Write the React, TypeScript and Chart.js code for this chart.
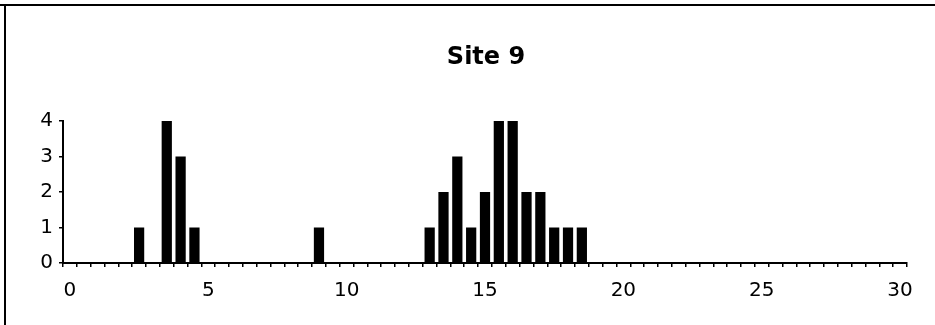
import React, { useEffect, useRef } from "react";
import { Chart, registerables } from "chart.js";

Chart.register(...registerables);

const TITLE = "Site 9";

const CATEGORIES = [
  "0", "0.5", "1", "1.5", "2", "2.5", "3", "3.5", "4", "4.5",
  "5", "5.5", "6", "6.5", "7", "7.5", "8", "8.5", "9", "9.5",
  "10", "10.5", "11", "11.5", "12", "12.5", "13", "13.5", "14", "14.5",
  "15", "15.5", "16", "16.5", "17", "17.5", "18", "18.5", "19", "19.5",
  "20", "20.5", "21", "21.5", "22", "22.5", "23", "23.5", "24", "24.5",
  "25", "25.5", "26", "26.5", "27", "27.5", "28", "28.5", "29", "29.5",
  "30",
];

const COUNTS = [
  0, 0, 0, 0, 0, 1, 0, 4, 3, 1,
  0, 0, 0, 0, 0, 0, 0, 0, 1, 0,
  0, 0, 0, 0, 0, 0, 1, 2, 3, 1,
  2, 4, 4, 2, 2, 1, 1, 1, 0, 0,
  0, 0, 0, 0, 0, 0, 0, 0, 0, 0,
  0, 0, 0, 0, 0, 0, 0, 0, 0, 0,
  0,
];

const X_TICK_LABELS = ["0", "5", "10", "15", "20", "25", "30"];
const Y_MIN = 0;
const Y_MAX = 4;

const FONT = "'DejaVu Sans', 'Liberation Sans', sans-serif";

const framePlugin = {
  id: "frame",
  afterDraw(chart: any) {
    const ctx = chart.ctx;
    ctx.save();
    ctx.fillStyle = "#000";
    ctx.fillRect(0, 4, chart.width, 2);
    ctx.fillRect(4, 4, 2, chart.height - 4);
    // title, centred over the plot as in the reference
    const area = chart.chartArea;
    ctx.font = `bold 24px ${FONT}`;
    ctx.textAlign = "center";
    ctx.textBaseline = "middle";
    ctx.fillText(TITLE, (area.left + area.right) / 2 + 1, 58);
    ctx.restore();
  },
};

export default function App() {
  const ref = useRef<HTMLCanvasElement | null>(null);

  useEffect(() => {
    if (!ref.current) return;
    const chart = new Chart(ref.current, {
      type: "bar",
      data: {
        labels: CATEGORIES,
        datasets: [
          {
            data: COUNTS,
            backgroundColor: "#000",
            borderWidth: 0,
            categoryPercentage: 1,
            barPercentage: 0.74,
          },
        ],
      },
      plugins: [framePlugin],
      options: {
        responsive: false,
        animation: false,
        layout: { padding: { left: 0, right: 28, top: 121, bottom: 0 } },
        plugins: {
          legend: { display: false },
          tooltip: { enabled: false },
          title: { display: false },
        },
        scales: {
          x: {
            type: "category",
            offset: true,
            border: { display: true, color: "#000", width: 2 },
            grid: {
              display: true,
              offset: true,
              drawOnChartArea: false,
              drawTicks: true,
              tickLength: 4,
              color: "#000",
              lineWidth: 1.5,
            },
            ticks: {
              autoSkip: false,
              maxRotation: 0,
              minRotation: 0,
              padding: 12,
              color: "#000",
              font: { family: FONT, size: 20 },
              callback: (_v: any, i: number) =>
                i % 10 === 0 ? X_TICK_LABELS[i / 10] : "",
            },
            afterFit: (scale: any) => {
              scale.height = 62;
            },
          },
          y: {
            min: Y_MIN,
            max: Y_MAX,
            border: { display: true, color: "#000", width: 2 },
            grid: {
              display: true,
              drawOnChartArea: false,
              drawTicks: true,
              tickLength: 4,
              color: "#000",
              lineWidth: 1.5,
            },
            ticks: {
              stepSize: 1,
              padding: 6,
              color: "#000",
              font: { family: FONT, size: 20 },
            },
            afterFit: (scale: any) => {
              scale.width = 63;
            },
          },
        },
      },
    });
    return () => chart.destroy();
  }, []);

  return (
    <div style={{ position: "fixed", left: 0, top: 0, width: 935, height: 325, background: "#fff" }}>
      <canvas ref={ref} width={935} height={325} style={{ display: "block", width: 935, height: 325 }} />
    </div>
  );
}
